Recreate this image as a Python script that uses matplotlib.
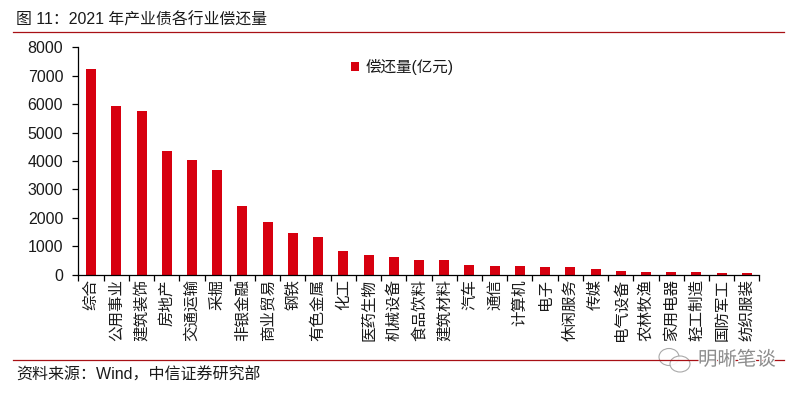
#!/usr/bin/env python3
import matplotlib
matplotlib.use('Agg')
import matplotlib.pyplot as plt
from matplotlib.lines import Line2D
from matplotlib.patches import Ellipse
import matplotlib.patheffects as pe

plt.rcParams['font.family'] = ['Liberation Sans', 'Noto Sans CJK SC']

industries = ['综合', '公用事业', '建筑装饰', '房地产', '交通运输', '采掘', '非银金融', '商业贸易', '钢铁',
              '有色金属', '化工', '医药生物', '机械设备', '食品饮料', '建筑材料', '汽车', '通信', '计算机',
              '电子', '休闲服务', '传媒', '电气设备', '农林牧渔', '家用电器', '轻工制造', '国防军工', '纺织服装']
repay = [7250, 5950, 5770, 4370, 4020, 3700, 2430, 1840, 1480,
         1340, 850, 710, 640, 530, 530, 350, 320, 320,
         280, 280, 210, 140, 100, 100, 100, 70, 70]
y_ticks = [0, 1000, 2000, 3000, 4000, 5000, 6000, 7000, 8000]

W, H = 803, 394
red = '#d7000f'
rule = '#a81015'
text_c = '#1a1a1a'

fig = plt.figure(figsize=(W / 100, H / 100), dpi=100)
ax = fig.add_axes([78.5 / W, 1 - 274.8 / H, 681 / W, 227.5 / H])

x = list(range(len(industries)))
ax.bar(x, repay, width=0.4, color=red, label='偿还量(亿元)')
ax.set_xlim(-0.5, len(industries) - 0.5)
ax.set_ylim(0, 8000)

ax.set_yticks(y_ticks)
ax.tick_params(axis='y', labelsize=11.5, length=4.5, width=0.9, pad=6.5, direction='out', labelcolor=text_c)
# ticks sit between the categories
ax.set_xticks([i - 0.5 for i in range(len(industries) + 1)])
ax.set_xticklabels([])
ax.tick_params(axis='x', length=4.5, width=0.9, direction='out')
for i, name in zip(x, industries):
    ax.annotate(name, (i, 0), xycoords=('data', 'axes fraction'), xytext=(0, -3.2),
                textcoords='offset points', rotation=90, ha='center', va='top',
                fontsize=11.2, color=text_c)

for s in ['top', 'right']:
    ax.spines[s].set_visible(False)
for s in ['left', 'bottom']:
    ax.spines[s].set_linewidth(0.9)

ax.legend(loc='upper left', bbox_to_anchor=(343 / W, 1 - 51 / H), bbox_transform=fig.transFigure,
          frameon=False, fontsize=11.2, handlelength=0.55, handleheight=0.55, handletextpad=0.4,
          borderpad=0, labelcolor=text_c)

fig.text(16.5 / W, 1 - 20 / H, '图 11：2021 年产业债各行业偿还量', fontsize=11.4, va='center', color=text_c)
fig.text(16.5 / W, 1 - 375 / H, '资料来源：Wind，中信证券研究部', fontsize=11.5, va='center', color=text_c)
for y in [31.5, 359.5]:
    fig.add_artist(Line2D([13 / W, 784 / W], [1 - y / H, 1 - y / H], color=rule, lw=0.9))

# watermark
for cx, cy, ew, eh in [(669, 357, 20, 17), (680, 364, 20, 16)]:
    fig.add_artist(Ellipse((cx / W, 1 - cy / H), ew / W, eh / H, transform=fig.transFigure,
                           fc='white', ec='#a0a0a0', lw=0.8, alpha=0.9))
fig.text(698 / W, 1 - 360 / H, '明晰笔谈', fontsize=14, va='center', color='#8c8c8c',
         path_effects=[pe.withStroke(linewidth=1.5, foreground='white')])

fig.savefig('out.png', dpi=100)
